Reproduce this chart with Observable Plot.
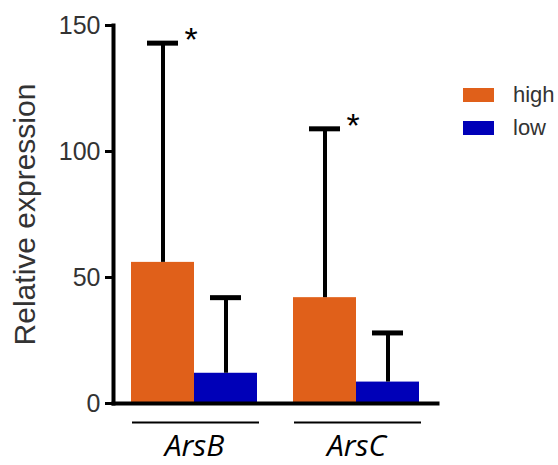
<!DOCTYPE html>
<html>
<head>
<meta charset="utf-8">
<script src="https://cdn.jsdelivr.net/npm/d3@7"></script>
<script src="https://cdn.jsdelivr.net/npm/@observablehq/plot@0.6"></script>
<style>
  body { margin: 0; background: #fff; }
  #wrap { position: relative; width: 558px; height: 465px; font-family: "Liberation Sans", Arial, sans-serif; }
  #legend { position: absolute; left: 463px; top: 88px; }
  .item { display: flex; align-items: center; height: 14px; margin-bottom: 19px; }
  .sw { width: 31px; height: 14px; margin-right: 19px; }
  .lab { font-size: 22px; color: #333; line-height: 14px; }
</style>
</head>
<body>
<div id="wrap"></div>
<script>
const groups = ["ArsB", "ArsC"];
const series = ["high", "low"];
const highValues = [56, 42];
const lowValues = [12, 8.5];
const highUpper = [143, 109];
const lowUpper = [42, 28];
const highSignif = ["*", "*"];
const yTicks = [0, 50, 100, 150];
const colors = ["#E0601A", "#0000B8"];
const yLabel = "Relative expression";

const rows = [];
groups.forEach((g, i) => {
  rows.push({group: g, series: "high", value: highValues[i], upper: highUpper[i], sig: highSignif[i]});
  rows.push({group: g, series: "low", value: lowValues[i], upper: lowUpper[i], sig: ""});
});

const chart = Plot.plot({
  width: 558,
  height: 465,
  marginLeft: 112,
  marginRight: 121,
  marginTop: 25,
  marginBottom: 62,
  style: {fontFamily: "Liberation Sans, Arial, sans-serif", background: "#fff"},
  fx: {domain: groups, padding: 0},
  x: {domain: series, paddingInner: 0, paddingOuter: 0.27, axis: null},
  y: {domain: [0, 150]},
  color: {domain: series, range: colors},
  marks: [
    Plot.barY(rows, {fx: "group", x: "series", y: "value", fill: "series"}),
    Plot.ruleX(rows, {fx: "group", x: "series", y1: "value", y2: "upper", stroke: "#000", strokeWidth: 4}),
    Plot.tickY(rows, {fx: "group", x: "series", y: "upper", stroke: "#000", strokeWidth: 5, insetLeft: 16, insetRight: 16}),
    Plot.text(rows, {fx: "group", x: "series", y: "upper", text: "sig", dx: 28, dy: -3, fontSize: 34, fill: "#000"}),
    Plot.ruleY([0], {dy: 19, insetLeft: 19, insetRight: 16, stroke: "#000", strokeWidth: 2}),
    Plot.frame({anchor: "bottom", facet: "super", stroke: "#000", strokeWidth: 4}),
    Plot.frame({anchor: "left", facet: "super", stroke: "#000", strokeWidth: 4}),
    Plot.axisY({ticks: yTicks, tickSize: 8, tickPadding: 5, fontSize: 25, strokeWidth: 3, stroke: "#000", fill: "#333", label: null}),
    Plot.text([yLabel], {facet: "super", frameAnchor: "left", textAnchor: "middle", rotate: -90, dx: -88, fontSize: 30, fill: "#333"}),
    Plot.axisFx({anchor: "bottom", tickSize: 0, tickPadding: 31, fontSize: 30, fontStyle: "italic", fontFamily: "Open Sans", fill: "#000", label: null})
  ]
});

const wrap = document.getElementById("wrap");
wrap.appendChild(chart);
const legend = document.createElement("div");
legend.id = "legend";
series.forEach((s, i) => {
  const item = document.createElement("div");
  item.className = "item";
  const sw = document.createElement("div");
  sw.className = "sw";
  sw.style.background = colors[i];
  const lab = document.createElement("span");
  lab.className = "lab";
  lab.textContent = s;
  item.appendChild(sw);
  item.appendChild(lab);
  legend.appendChild(item);
});
wrap.appendChild(legend);
</script>
</body>
</html>
